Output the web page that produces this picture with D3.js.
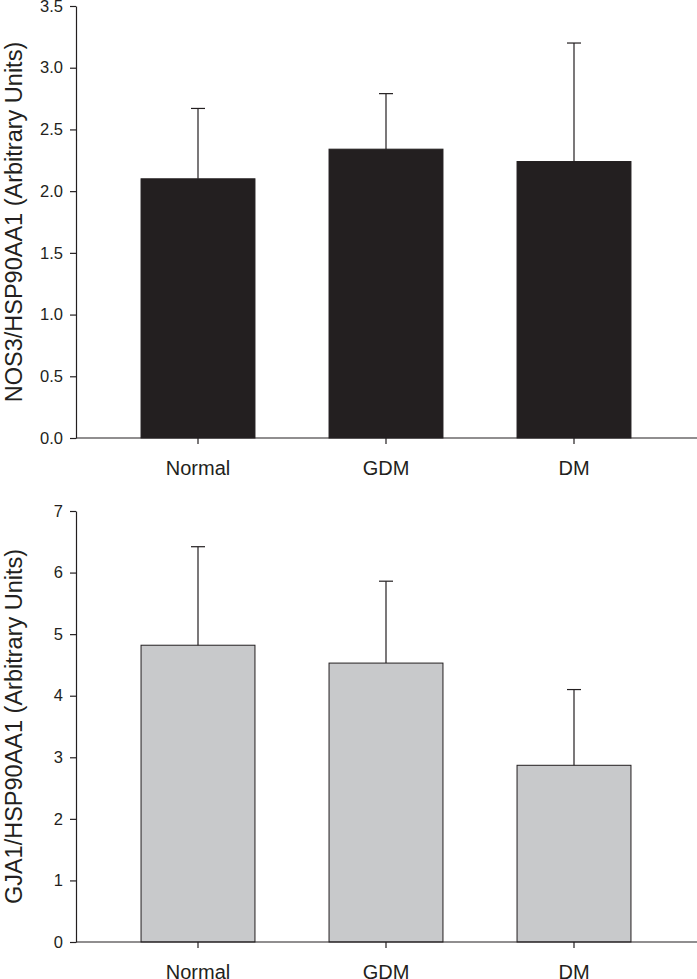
<!DOCTYPE html>
<html>
<head>
<meta charset="utf-8">
<script src="https://cdn.jsdelivr.net/npm/d3@7"></script>
<style>
  body { margin: 0; background: #fff; }
  svg { display: block; font-family: "Liberation Sans", Arial, sans-serif; }
</style>
</head>
<body>
<svg id="chart" width="697" height="979"></svg>
<script>
// groups shared by both panels
var groups = ["Normal", "GDM", "DM"];

// top panel: NOS3
var nosMeans = [2.10, 2.34, 2.24];
var nosErr = [0.57, 0.45, 0.96];
var nosTicks = [0, 0.5, 1.0, 1.5, 2.0, 2.5, 3.0, 3.5];

// bottom panel: GJA1
var gjaMeans = [4.82, 4.53, 2.87];
var gjaErr = [1.60, 1.33, 1.23];
var gjaTicks = [0, 1, 2, 3, 4, 5, 6, 7];

var svg = d3.select("#chart");
var ink = "#231f20";

function drawPanel(opts) {
    var g = svg.append("g");

    var x = d3.scaleBand()
        .domain(groups)
        .range([104, 668])
        .paddingInner(0.394)
        .paddingOuter(0.197);

    var y = d3.scaleLinear()
        .domain([0, opts.max])
        .range([opts.bottom, opts.top]);

    // bars
    g.selectAll("rect.bar")
        .data(opts.means)
        .enter().append("rect")
        .attr("class", "bar")
        .attr("x", function(d, i) { return x(groups[i]); })
        .attr("y", function(d) { return y(d); })
        .attr("width", x.bandwidth())
        .attr("height", function(d) { return y(0) - y(d); })
        .attr("fill", opts.fill)
        .attr("stroke", ink)
        .attr("stroke-width", 1);

    // error bars (upper only)
    var eb = g.selectAll("g.err")
        .data(opts.means)
        .enter().append("g")
        .attr("class", "err")
        .attr("stroke", ink)
        .attr("stroke-width", 1.2);
    eb.append("line")
        .attr("x1", function(d, i) { return x(groups[i]) + x.bandwidth() / 2; })
        .attr("x2", function(d, i) { return x(groups[i]) + x.bandwidth() / 2; })
        .attr("y1", function(d) { return y(d); })
        .attr("y2", function(d, i) { return y(d + opts.err[i]); });
    eb.append("line")
        .attr("x1", function(d, i) { return x(groups[i]) + x.bandwidth() / 2 - 7; })
        .attr("x2", function(d, i) { return x(groups[i]) + x.bandwidth() / 2 + 7; })
        .attr("y1", function(d, i) { return y(d + opts.err[i]); })
        .attr("y2", function(d, i) { return y(d + opts.err[i]); });

    // y axis
    var yAxis = g.append("g")
        .attr("transform", "translate(76,0)")
        .call(d3.axisLeft(y)
            .tickValues(opts.ticks)
            .tickFormat(opts.fmt)
            .tickSize(6)
            .tickSizeOuter(0)
            .tickPadding(7));
    yAxis.select(".domain").attr("stroke", ink).attr("stroke-width", 1.2);
    yAxis.selectAll(".tick line").attr("stroke", ink).attr("stroke-width", 1.2);
    yAxis.selectAll(".tick text")
        .attr("fill", ink)
        .style("font-size", "16.5px");

    // x axis, runs to the right edge
    g.append("line")
        .attr("x1", 76).attr("x2", 697)
        .attr("y1", y(0)).attr("y2", y(0))
        .attr("stroke", ink)
        .attr("stroke-width", 1.2);
    var xt = g.selectAll("g.xt")
        .data(groups)
        .enter().append("g")
        .attr("class", "xt")
        .attr("transform", function(d) { return "translate(" + (x(d) + x.bandwidth() / 2) + "," + y(0) + ")"; });
    xt.append("line")
        .attr("y2", 6)
        .attr("stroke", ink)
        .attr("stroke-width", 1.2);
    xt.append("text")
        .attr("y", 37)
        .attr("text-anchor", "middle")
        .attr("fill", ink)
        .style("font-size", "20px")
        .text(function(d) { return d; });

    // y title
    g.append("text")
        .attr("transform", "translate(22," + ((opts.top + opts.bottom) / 2) + ")rotate(-90)")
        .attr("text-anchor", "middle")
        .attr("fill", ink)
        .style("font-size", "23.5px")
        .text(opts.title);
}

drawPanel({
    means: nosMeans, err: nosErr, ticks: nosTicks, max: 3.5,
    top: 6, bottom: 438, fill: ink,
    fmt: d3.format(".1f"),
    title: "NOS3/HSP90AA1 (Arbitrary Units)"
});

drawPanel({
    means: gjaMeans, err: gjaErr, ticks: gjaTicks, max: 7,
    top: 511, bottom: 942, fill: "#c8c9cb",
    fmt: d3.format("d"),
    title: "GJA1/HSP90AA1 (Arbitrary Units)"
});
</script>
</body>
</html>
